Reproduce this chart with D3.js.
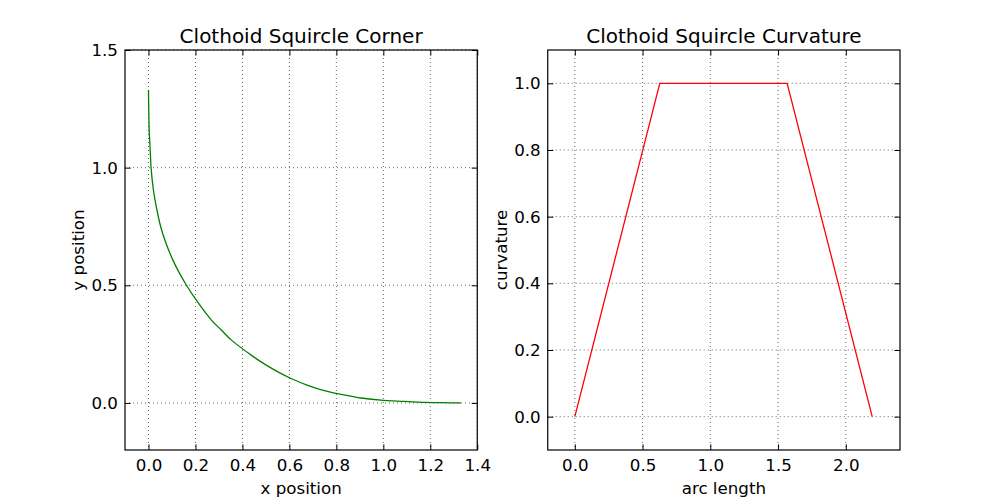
<!DOCTYPE html>
<html>
<head>
<meta charset="utf-8">
<script src="https://cdn.jsdelivr.net/npm/d3@7"></script>
<style>
  body { margin: 0; background: #fff; }
  svg { display: block; font-family: "DejaVu Sans", sans-serif; }
</style>
</head>
<body>
<svg id="chart" width="1000" height="500"></svg>
<script>
// corner path (x, y)
const cornerX = [0.000, 0.001, 0.0035, 0.008, 0.011, 0.021, 0.036, 0.052, 0.075, 0.104, 0.129, 0.163, 0.200, 0.268, 0.310,
                 0.352, 0.442, 0.498, 0.557, 0.607, 0.678, 0.749, 0.820, 0.905, 1.000, 1.060, 1.150, 1.250, 1.330]
const cornerY = [1.330, 1.250, 1.150, 1.060, 1.000, 0.905, 0.820, 0.749, 0.678, 0.607, 0.557, 0.498, 0.442, 0.352, 0.310,
                 0.268, 0.200, 0.163, 0.129, 0.104, 0.075, 0.052, 0.036, 0.021, 0.011, 0.008, 0.0035, 0.001, 0.000]

// curvature vs arc length
const arcLength = [0, 0.627, 1.567, 2.195]
const curvature = [0, 1, 1, 0]

const leftXTicks = [0, 0.2, 0.4, 0.6, 0.8, 1.0, 1.2, 1.4]
const leftYTicks = [0, 0.5, 1.0, 1.5]
const rightXTicks = [0, 0.5, 1.0, 1.5, 2.0]
const rightYTicks = [0, 0.2, 0.4, 0.6, 0.8, 1.0]

const svg = d3.select("#chart")
const axTop = 50, axBottom = 450, axW = 352.27

function panel(x0, opts) {
  const xs = d3.scaleLinear().domain(opts.xDomain).range([x0, x0 + axW])
  const ys = d3.scaleLinear().domain(opts.yDomain).range([axBottom, axTop])
  const g = svg.append("g")

  // grid
  g.selectAll(".gx").data(opts.xTicks).join("line")
    .attr("x1", d => xs(d)).attr("x2", d => xs(d))
    .attr("y1", axTop).attr("y2", axBottom)
    .attr("stroke", "#000").attr("stroke-width", 0.6).attr("stroke-dasharray", "1,3")
  g.selectAll(".gy").data(opts.yTicks).join("line")
    .attr("y1", d => ys(d)).attr("y2", d => ys(d))
    .attr("x1", x0).attr("x2", x0 + axW)
    .attr("stroke", "#000").attr("stroke-width", 0.6).attr("stroke-dasharray", "1,3")

  // data line
  const line = d3.line().x(d => xs(d[0])).y(d => ys(d[1]))
  if (opts.curve) line.curve(opts.curve)
  g.append("path")
    .datum(d3.zip(opts.xs, opts.ys))
    .attr("fill", "none").attr("stroke", opts.color).attr("stroke-width", 1.3)
    .attr("d", line)

  // axes, ticks pointing inward on all four sides
  const tl = 5.6
  const ax = (sel, a) => sel.call(a).call(s => s.select(".domain").remove())
    .call(s => s.selectAll("line").attr("stroke", "#000"))
  g.append("g").attr("transform", `translate(0,${axBottom})`)
    .call(s => ax(s, d3.axisBottom(xs).tickValues(opts.xTicks).tickSize(-tl).tickPadding(9).tickFormat(d3.format(".1f"))))
  g.append("g").attr("transform", `translate(0,${axTop})`)
    .call(s => ax(s, d3.axisTop(xs).tickValues(opts.xTicks).tickSize(-tl).tickFormat("")))
  g.append("g").attr("transform", `translate(${x0},0)`)
    .call(s => ax(s, d3.axisLeft(ys).tickValues(opts.yTicks).tickSize(-tl).tickPadding(7).tickFormat(d3.format(".1f"))))
  g.append("g").attr("transform", `translate(${x0 + axW},0)`)
    .call(s => ax(s, d3.axisRight(ys).tickValues(opts.yTicks).tickSize(-tl).tickFormat("")))
  g.selectAll(".tick text").attr("font-size", 16.7).attr("fill", "#000")
    .attr("font-family", "DejaVu Sans")

  g.append("rect").attr("x", x0).attr("y", axTop).attr("width", axW).attr("height", axBottom - axTop)
    .attr("fill", "none").attr("stroke", "#000").attr("stroke-width", 1.2)

  g.append("text").attr("x", x0 + axW / 2).attr("y", 43).attr("text-anchor", "middle")
    .attr("font-size", 20).text(opts.title)
  g.append("text").attr("x", x0 + axW / 2).attr("y", 494).attr("text-anchor", "middle")
    .attr("font-size", 16.7).text(opts.xLabel)
  g.append("text").attr("transform", `translate(${opts.yLabelX},${(axTop + axBottom) / 2}) rotate(-90)`)
    .attr("text-anchor", "middle").attr("font-size", 16.7).text(opts.yLabel)
}

panel(125, {
  xDomain: [-0.1, 1.4], yDomain: [-0.2, 1.5],
  xTicks: leftXTicks, yTicks: leftYTicks,
  xs: cornerX, ys: cornerY, color: "#008000", curve: d3.curveCatmullRom,
  title: "Clothoid Squircle Corner", xLabel: "x position", yLabel: "y position", yLabelX: 84
})
panel(547.73, {
  xDomain: [-0.2, 2.4], yDomain: [-0.1, 1.1],
  xTicks: rightXTicks, yTicks: rightYTicks,
  xs: arcLength, ys: curvature, color: "#ff0000",
  title: "Clothoid Squircle Curvature", xLabel: "arc length", yLabel: "curvature", yLabelX: 507
})
</script>
</body>
</html>
